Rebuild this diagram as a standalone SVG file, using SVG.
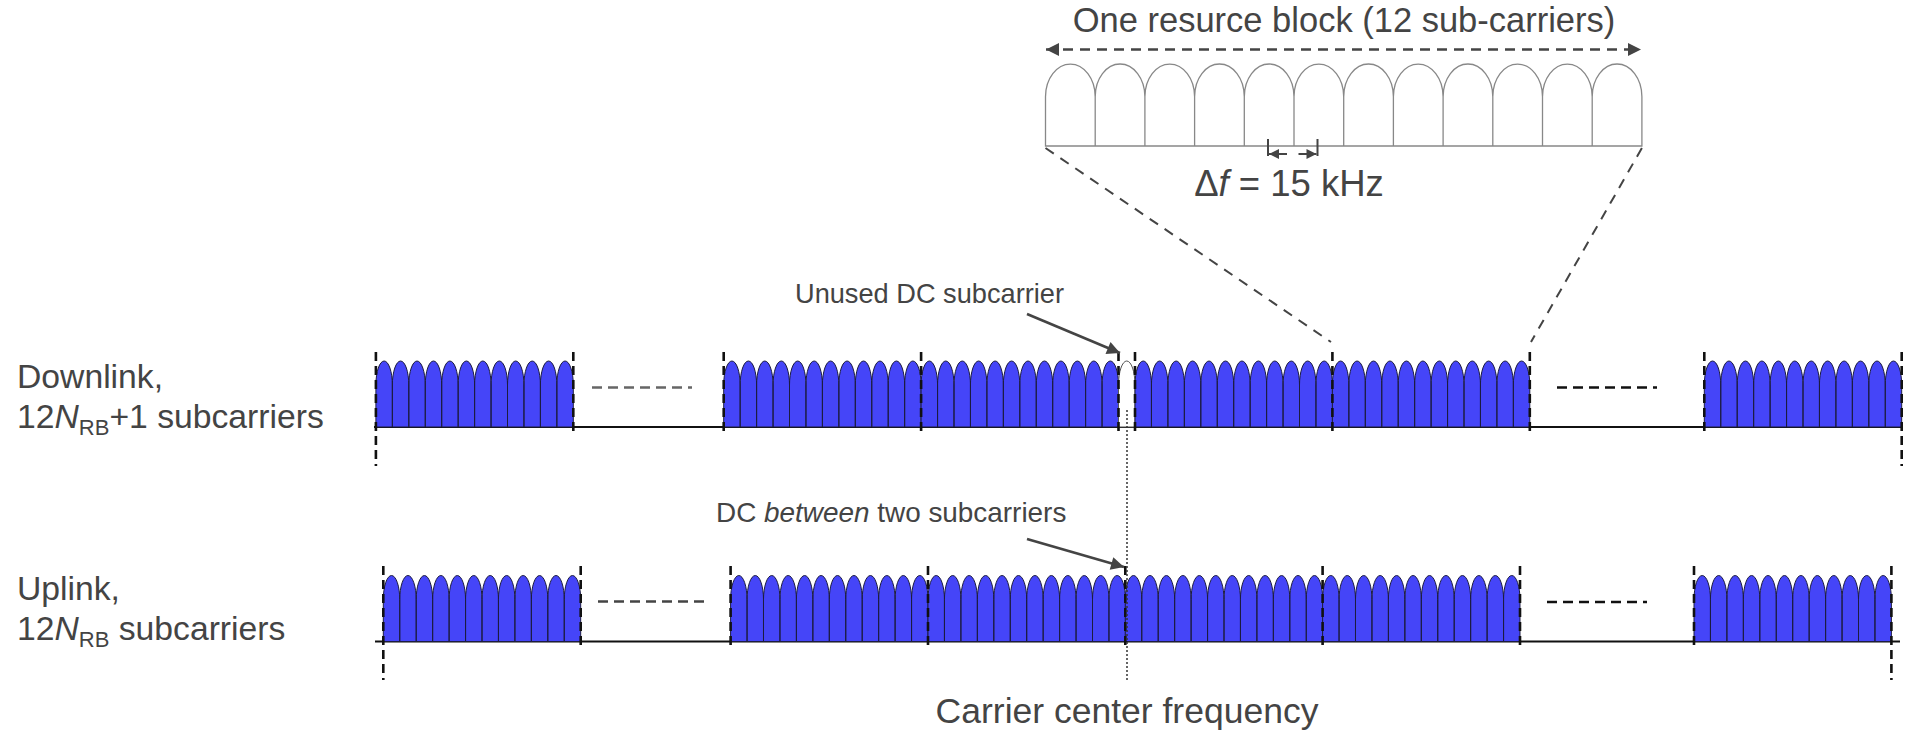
<svg xmlns="http://www.w3.org/2000/svg" xmlns:xlink="http://www.w3.org/1999/xlink" width="1905" height="733" viewBox="0 0 1905 733">
<style>
.t{font-family:"Liberation Sans",Arial,sans-serif;fill:#444}
.bell{fill:#4545f8;stroke:#1c1c40;stroke-width:1}
.vd{stroke:#111;stroke-width:2.6;stroke-dasharray:9 5;fill:none}
.base{stroke:#111;stroke-width:2.2;fill:none}
.gap{stroke-width:2.6;stroke-dasharray:10 6;fill:none}
.ptr{stroke:#444;stroke-width:2.6;fill:none}
.zoomln{stroke:#444;stroke-width:2;stroke-dasharray:10 8;fill:none}
</style>
<defs>
<marker id="ah" viewBox="0 0 10 10" refX="10" refY="5" markerWidth="18" markerHeight="13" markerUnits="userSpaceOnUse" orient="auto-start-reverse"><path d="M0,0 L10,5 L0,10 Z" fill="#444"/></marker>
<marker id="ahs" viewBox="0 0 10 10" refX="10" refY="5" markerWidth="12" markerHeight="10" markerUnits="userSpaceOnUse" orient="auto-start-reverse"><path d="M0,0 L10,5 L0,10 Z" fill="#444"/></marker>
<g id="rb">
<path class="bell" d="M0,66V24A8.225,24 0 0 1 16.45,24V66Z M16.45,66V24A8.225,24 0 0 1 32.9,24V66Z M32.9,66V24A8.225,24 0 0 1 49.35,24V66Z M49.35,66V24A8.225,24 0 0 1 65.8,24V66Z M65.8,66V24A8.225,24 0 0 1 82.25,24V66Z M82.25,66V24A8.225,24 0 0 1 98.7,24V66Z M98.7,66V24A8.225,24 0 0 1 115.15,24V66Z M115.15,66V24A8.225,24 0 0 1 131.6,24V66Z M131.6,66V24A8.225,24 0 0 1 148.05,24V66Z M148.05,66V24A8.225,24 0 0 1 164.5,24V66Z M164.5,66V24A8.225,24 0 0 1 180.95,24V66Z M180.95,66V24A8.225,24 0 0 1 197.4,24V66Z"/>
</g>
</defs>

<g id="resource-block-zoom">
<path d="M1045.5,146 V96.7 A24.85,32.7 0 0 1 1095.2,96.7 A24.85,32.7 0 0 1 1144.9,96.7 A24.85,32.7 0 0 1 1194.6,96.7 A24.85,32.7 0 0 1 1244.3,96.7 A24.85,32.7 0 0 1 1294,96.7 A24.85,32.7 0 0 1 1343.7,96.7 A24.85,32.7 0 0 1 1393.4,96.7 A24.85,32.7 0 0 1 1443.1,96.7 A24.85,32.7 0 0 1 1492.8,96.7 A24.85,32.7 0 0 1 1542.5,96.7 A24.85,32.7 0 0 1 1592.2,96.7 A24.85,32.7 0 0 1 1641.9,96.7 V146 Z M1095.2,146V96.7 M1144.9,146V96.7 M1194.6,146V96.7 M1244.3,146V96.7 M1294,146V96.7 M1343.7,146V96.7 M1393.4,146V96.7 M1443.1,146V96.7 M1492.8,146V96.7 M1542.5,146V96.7 M1592.2,146V96.7" fill="#fff" stroke="#888" stroke-width="1.3"/>
<text class="t" x="1344" y="32" font-size="34.5" text-anchor="middle">One resurce block (12 sub-carriers)</text>
<line x1="1046" y1="49.5" x2="1641" y2="49.5" stroke="#444" stroke-width="2.5" stroke-dasharray="10 7" marker-start="url(#ah)" marker-end="url(#ah)"/>
<path d="M1268,139V156 M1317.5,139V156" stroke="#444" stroke-width="2"/>
<line x1="1269" y1="154" x2="1316.5" y2="154" stroke="#444" stroke-width="2" stroke-dasharray="18 11.5" marker-start="url(#ahs)" marker-end="url(#ahs)"/>
<text class="t" x="1289" y="196" font-size="36.5" text-anchor="middle">Δ<tspan font-style="italic">f</tspan> = 15 kHz</text>
</g>

<g id="downlink-label">
<text class="t" x="17" y="388" font-size="33.7">Downlink,</text>
<text class="t" x="17" y="428" font-size="33.7">12<tspan font-style="italic">N</tspan><tspan font-size="22" dy="7">RB</tspan><tspan dy="-7">+1 subcarriers</tspan></text>
</g>
<g id="uplink-label">
<text class="t" x="17" y="600" font-size="33.7">Uplink,</text>
<text class="t" x="17" y="640" font-size="33.7">12<tspan font-style="italic">N</tspan><tspan font-size="22" dy="7">RB</tspan><tspan dy="-7"> subcarriers</tspan></text>
</g>

<g id="downlink">
<line class="base" x1="374" y1="427" x2="1902" y2="427"/>
<use xlink:href="#rb" x="375.9" y="361"/>
<use xlink:href="#rb" x="723.7" y="361"/>
<use xlink:href="#rb" x="921.1" y="361"/>
<path d="M1118.5,427V385A8.25,24 0 0 1 1135,385V427Z" fill="#fff" stroke="#555" stroke-width="1"/>
<use xlink:href="#rb" x="1135" y="361"/>
<use xlink:href="#rb" x="1332.4" y="361"/>
<use xlink:href="#rb" x="1704.3" y="361"/>
<line class="gap" x1="592" y1="387.5" x2="692" y2="387.5" stroke="#666"/>
<line class="gap" x1="1557" y1="387.5" x2="1657" y2="387.5" stroke="#111"/>
<path class="vd" d="M375.9,352V466 M573.3,352V435 M723.7,352V435 M921.1,352V435 M1118.5,352V435 M1135,352V435 M1332.4,352V435 M1529.8,352V435 M1704.3,352V435 M1901.7,352V466"/>
</g>

<g id="uplink">
<line class="base" x1="375" y1="641.5" x2="1900" y2="641.5"/>
<use xlink:href="#rb" x="383.3" y="575.5"/>
<use xlink:href="#rb" x="730.6" y="575.5"/>
<use xlink:href="#rb" x="928" y="575.5"/>
<use xlink:href="#rb" x="1125.3" y="575.5"/>
<use xlink:href="#rb" x="1322.6" y="575.5"/>
<use xlink:href="#rb" x="1694" y="575.5"/>
<line class="gap" x1="598" y1="601.5" x2="705" y2="601.5" stroke="#444"/>
<line class="gap" x1="1547" y1="602" x2="1647" y2="602" stroke="#111"/>
<path class="vd" d="M383.3,566V680 M580.7,566V649 M730.6,566V649 M928,566V649 M1125.3,566V649 M1322.6,566V649 M1520,566V649 M1694,566V649 M1891.4,566V680"/>
</g>

<g id="connectors">
<line x1="1045.5" y1="148" x2="1331" y2="342" class="zoomln"/>
<line x1="1641.9" y1="148" x2="1531" y2="342" class="zoomln"/>
<line x1="1127" y1="410" x2="1127" y2="682" stroke="#333" stroke-width="1.5" stroke-dasharray="2 2"/>
<line class="ptr" x1="1027" y1="314" x2="1120" y2="353" marker-end="url(#ah)"/>
<line class="ptr" x1="1027" y1="539" x2="1124" y2="567" marker-end="url(#ah)"/>
</g>

<g id="annotations">
<text class="t" x="795" y="303" font-size="27.2">Unused DC subcarrier</text>
<text class="t" x="716" y="522" font-size="27.9">DC <tspan font-style="italic">between</tspan> two subcarriers</text>
<text class="t" x="1127" y="723" font-size="35.5" text-anchor="middle">Carrier center frequency</text>
</g>
</svg>
